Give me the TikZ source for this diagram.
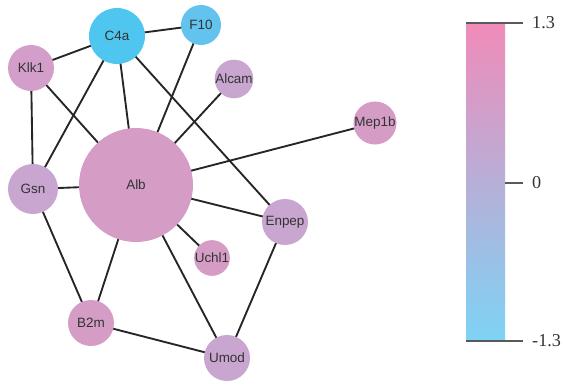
\documentclass[tikz,border=0pt]{standalone}
\usepackage{fontspec}
\setmainfont{Liberation Serif}
\newfontfamily\genefont{Liberation Sans}
\usepackage{xcolor}
\usepackage{tikz}
\usetikzlibrary{backgrounds}

\definecolor{upcol}{HTML}{F18BB9}
\definecolor{midcol}{HTML}{C6B2D8}
\definecolor{downcol}{HTML}{7DD3F5}
\definecolor{geneA}{HTML}{D59DC6}
\definecolor{geneB}{HTML}{C9A6D0}
\definecolor{geneC}{HTML}{4EC6F0}
\definecolor{geneD}{HTML}{62C3EE}
\definecolor{geneE}{HTML}{D49ECB}

\begin{document}
\begin{tikzpicture}[
    x=0.3mm, y=-0.3mm,
    gene/.style={circle, inner sep=0pt, text=black!80,
                 font=\genefont\fontsize{11.5}{13}\selectfont},
    link/.style={line width=1.6pt, black!85},
    tick/.style={line width=1.1pt, black!65},
    lab/.style={anchor=west, inner sep=0pt, text=black!80,
                font=\fontsize{15.5}{17}\selectfont}
]
\useasboundingbox (0,0) rectangle (566,385);

% nodes of the network
\node[gene, fill=geneC, minimum size=16.8mm] (c4a) at (117,36) {C4a};
\node[gene, fill=geneD, minimum size=12mm] (f10) at (201,25) {F10};
\node[gene, fill=geneE, minimum size=13.8mm] (klk1) at (31,68) {Klk1};
\node[gene, fill=geneB, minimum size=10.2mm] (alcam) at (234,79) {Alcam};
\node[gene, fill=geneA, minimum size=34.2mm] (alb) at (136,185) {Alb};
\node[gene, fill=geneB, minimum size=15mm] (gsn) at (33,189) {Gsn};
\node[gene, fill=geneA, minimum size=10.2mm] (mep1b) at (375,123) {Mep1b};
\node[gene, fill=geneB, minimum size=13.8mm] (enpep) at (285,222) {Enpep};
\node[gene, fill=geneA, minimum size=10.2mm] (uchl1) at (212,258) {Uchl1};
\node[gene, fill=geneA, minimum size=13.8mm] (b2m) at (91,323) {B2m};
\node[gene, fill=geneB, minimum size=13.8mm] (umod) at (227,358) {Umod};

% edges behind the circles
\begin{scope}[on background layer]
\foreach \a/\b in {c4a/f10, c4a/klk1, c4a/gsn, c4a/alb, c4a/enpep,
                   f10/alb, alcam/alb, klk1/alb, klk1/gsn, gsn/alb,
                   gsn/b2m, alb/mep1b, alb/enpep, alb/uchl1, alb/b2m,
                   alb/umod, b2m/umod, enpep/umod}
  \draw[link] (\a.center) -- (\b.center);
\end{scope}

% colour bar
\coordinate (bartop) at (466,23);
\coordinate (barbot) at (505,341);
\shade[top color=upcol, middle color=midcol, bottom color=downcol]
  (bartop) rectangle (barbot);
\draw[tick] (466,23) -- (523,23);
\draw[tick] (505,183) -- (523,183);
\draw[tick] (466,341) -- (523,341);
\node[lab] (hi) at (532,23) {1.3};
\node[lab] (zero) at (532,183) {0};
\node[lab] (lo) at (532,341) {-1.3};

\end{tikzpicture}
\end{document}
